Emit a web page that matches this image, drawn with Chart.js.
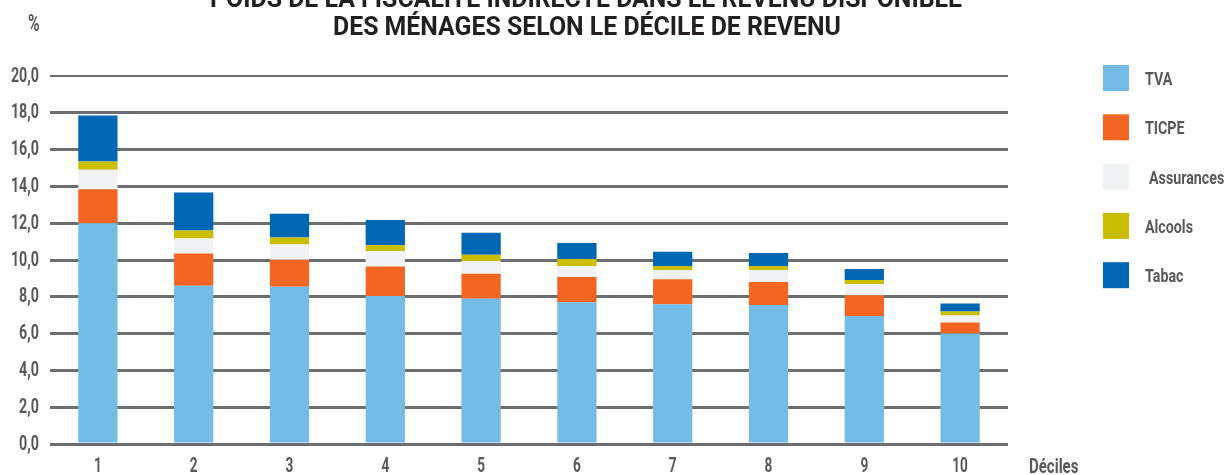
<!DOCTYPE html>
<html>
<head>
<meta charset="utf-8">
<script src="https://cdn.jsdelivr.net/npm/chart.js@4/dist/chart.umd.min.js"></script>
<style>
  html, body { margin: 0; padding: 0; background: #fff; }
  #wrap { width: 1226px; height: 475px; position: relative; }
</style>
</head>
<body>
<div id="wrap"><canvas id="chartCanvas"></canvas></div>
<script>
const deciles = ['1', '2', '3', '4', '5', '6', '7', '8', '9', '10'];
const tva = [12.0, 8.6, 8.55, 8.05, 7.9, 7.7, 7.6, 7.55, 6.95, 6.0];
const ticpe = [1.85, 1.75, 1.47, 1.6, 1.35, 1.37, 1.36, 1.25, 1.14, 0.6];
const assurances = [1.05, 0.82, 0.82, 0.82, 0.7, 0.6, 0.49, 0.65, 0.6, 0.38];
const alcools = [0.45, 0.43, 0.38, 0.33, 0.33, 0.38, 0.22, 0.22, 0.22, 0.22];
const tabac = [2.5, 2.07, 1.3, 1.38, 1.2, 0.87, 0.78, 0.71, 0.6, 0.44];
const yTicks = [0, 2, 4, 6, 8, 10, 12, 14, 16, 18, 20];

const titleLines = ['POIDS DE LA FISCALITÉ INDIRECTE DANS LE REVENU DISPONIBLE',
  'DES MÉNAGES SELON LE DÉCILE DE REVENU'];
const gray = '#58595b';
const gridGray = '#6d6e71';

// the original typeface is a narrow DIN-like face: squeeze Roboto horizontally
function narrowText(c, text, x, y, size, align, sx) {
  c.save();
  c.font = 'bold ' + size + 'px Roboto, sans-serif';
  c.translate(x, y);
  c.scale(sx, 1);
  c.textAlign = align;
  c.fillText(text, 0, 0);
  c.restore();
}

function fitText(c, text, cx, y, font, width) {
  c.save();
  c.font = font;
  const sx = width / c.measureText(text).width;
  c.translate(cx, y);
  c.scale(sx, 1);
  c.textAlign = 'center';
  c.fillText(text, 0, 0);
  c.restore();
}

// title, tick labels and legend, placed from the chart's own scales
const extras = {
  id: 'extras',
  afterDraw(chart) {
    const c = chart.ctx;
    const xs = chart.scales.x;
    const ys = chart.scales.y;
    c.save();
    c.textBaseline = 'alphabetic';
    c.fillStyle = '#231f20';
    fitText(c, titleLines[0], 586, 7, 'bold 25px Roboto, sans-serif', 752);
    fitText(c, titleLines[1], 587, 35, 'bold 25px Roboto, sans-serif', 508);

    c.fillStyle = gray;
    narrowText(c, '%', 28, 31, 24, 'left', 0.66);

    yTicks.forEach(v => {
      narrowText(c, v.toFixed(1).replace('.', ','), 39, ys.getPixelForValue(v) + 5.5, 21, 'right', 0.68);
    });
    deciles.forEach((lab, i) => {
      narrowText(c, lab, xs.getPixelForTick(i), 472, 20, 'center', 0.68);
    });
    narrowText(c, 'Déciles', 1029, 473, 20, 'left', 0.75);

    // legend
    chart.data.datasets.forEach((ds, i) => {
      const y = 65 + i * 49.3;
      c.fillStyle = ds.backgroundColor;
      c.fillRect(1103, y, 26, 26);
      c.fillStyle = gray;
      narrowText(c, ds.label, ds.label === 'Assurances' ? 1149 : 1145, y + 20, 19, 'left', 0.75);
    });
    c.restore();
  }
};

const ctx = document.getElementById('chartCanvas').getContext('2d');

const chart = new Chart(ctx, {
  type: 'bar',
  data: {
    labels: deciles,
    datasets: [
      { label: 'TVA', data: tva, backgroundColor: '#74bce6' },
      { label: 'TICPE', data: ticpe, backgroundColor: '#f26522' },
      { label: 'Assurances', data: assurances, backgroundColor: '#f1f2f3' },
      { label: 'Alcools', data: alcools, backgroundColor: '#cbbd00' },
      { label: 'Tabac', data: tabac, backgroundColor: '#0067b4' }
    ]
  },
  options: {
    responsive: true,
    maintainAspectRatio: false,
    animation: false,
    layout: { padding: { top: 76, right: 218, left: 0, bottom: 0 } },
    datasets: {
      bar: { barPercentage: 0.41, categoryPercentage: 1, borderWidth: 0 }
    },
    plugins: {
      legend: { display: false },
      title: { display: false },
      tooltip: { enabled: false }
    },
    scales: {
      x: {
        stacked: true,
        grid: { display: false },
        border: { display: false },
        ticks: { display: false },
        afterFit(scale) { scale.height = 31; }
      },
      y: {
        stacked: true,
        min: 0,
        max: 20,
        afterBuildTicks(scale) { scale.ticks = yTicks.map(v => ({ value: v })); },
        grid: {
          color: gridGray,
          lineWidth: c => (c.tick && c.tick.value === 20 ? 2 : 3),
          drawTicks: false
        },
        border: { display: false },
        ticks: { display: false },
        afterFit(scale) { scale.width = 50; }
      }
    }
  },
  plugins: [extras]
});
</script>
</body>
</html>
